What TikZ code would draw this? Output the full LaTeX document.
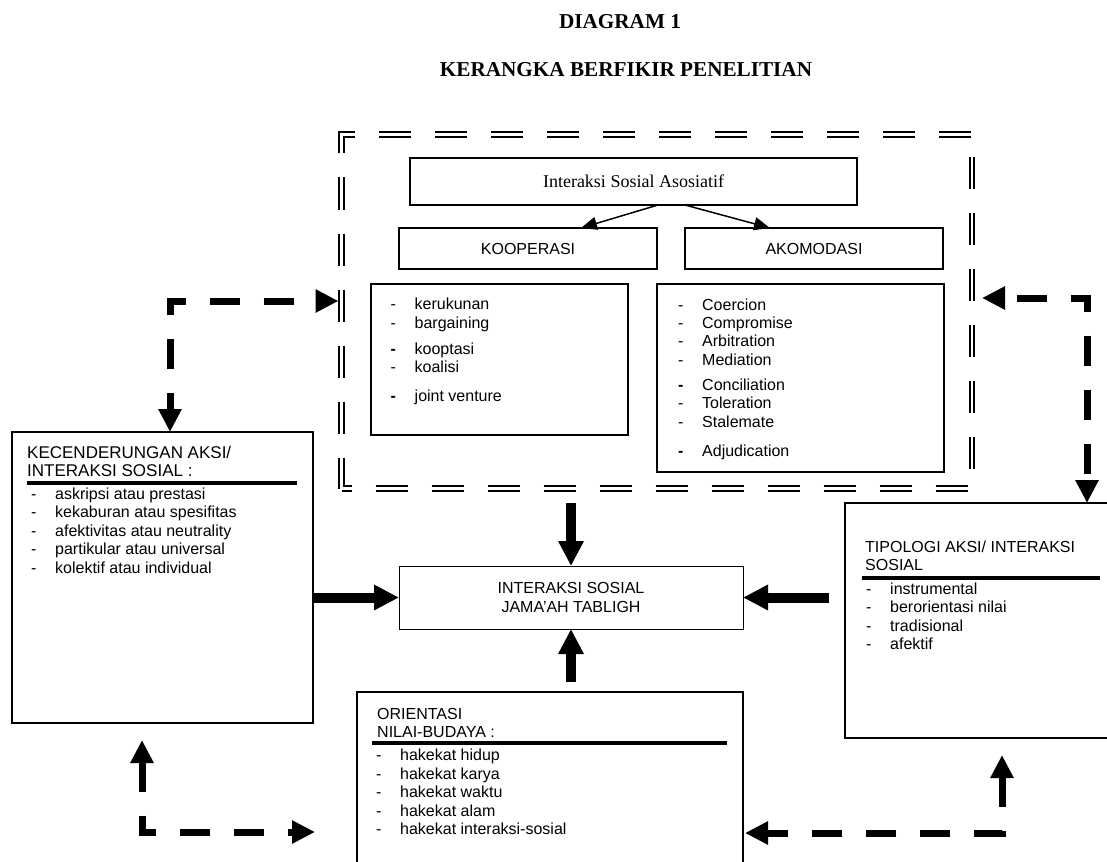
\documentclass[tikz,border=0pt]{standalone}
\usepackage{fontspec}
\setmainfont{Liberation Sans}
\newfontfamily\timesfont{Liberation Serif}
\usetikzlibrary{arrows.meta}

\newcommand{\itm}[1]{\makebox[24pt][l]{-}#1}
\newcommand{\itmb}[1]{\makebox[24pt][l]{\textbf{-}}#1}

\begin{document}
\begin{tikzpicture}[x=1pt,y=-1pt,font=\fontsize{16}{18.4}\selectfont,
    box/.style={draw,line width=1.6pt,inner sep=0pt,outer sep=0pt},
    listtext/.style={anchor=base west,align=left,inner sep=0pt},
    thinarrow/.style={-{Triangle[length=16pt,width=13pt]},line width=1.5pt},
    fatarrow/.style={-{Triangle[length=25pt,width=24pt]},line width=10pt},
    dasharrow/.style={{Triangle[length=23pt,width=22pt]}-{Triangle[length=23pt,width=22pt]},line width=7pt,dash pattern=on 30pt off 24pt}]
    \fill[white] (0,0) rectangle (1107,861);
    \useasboundingbox (0,0) rectangle (1107,861);
    %Title
    \node[font=\timesfont\bfseries\fontsize{21.2}{25}\selectfont] (title) at (620,22) {DIAGRAM 1};
    \node[font=\timesfont\bfseries\fontsize{21.2}{25}\selectfont] (subtitle) at (626,70) {KERANGKA BERFIKIR PENELITIAN};
    %Asosiatif frame
    \node[draw,double,double distance=2.5pt,line width=2pt,outer sep=0pt,dash pattern=on 32pt off 24pt,dash phase=22pt,minimum width=630.5pt,minimum height=354pt] (assoc) at (656.75,311.5) {};
    \node[box,font=\timesfont\fontsize{18}{22}\selectfont,minimum width=447pt,minimum height=47pt] (asos) at (633.5,181.5) {Interaksi Sosial Asosiatif};
    \node[box,line width=1.3pt,minimum width=258pt,minimum height=41pt] (koop) at (528,248.5) {KOOPERASI};
    \node[box,line width=1.3pt,minimum width=258pt,minimum height=41pt] (akom) at (814,248.5) {AKOMODASI};
    \draw[thinarrow] ([xshift=24.5pt]asos.south) -- ([xshift=53pt]koop.north);
    \draw[thinarrow] ([xshift=51.5pt]asos.south) -- ([xshift=-44pt]akom.north);
    %Lists
    \node[box,minimum width=257pt,minimum height=151pt] (kooplist) at (499.5,359.5) {};
    \node[listtext] (koopitems) at (390.5,401.5) {\itm{kerukunan}\\ \itm{bargaining}\\[7.6pt] \itmb{kooptasi}\\ \itm{koalisi}\\[10.6pt] \itmb{joint venture}};
    \node[box,minimum width=287pt,minimum height=188pt] (akomlist) at (800.5,378) {};
    \node[listtext] (akomitems) at (678,456) {\itm{Coercion}\\ \itm{Compromise}\\ \itm{Arbitration}\\ \itm{Mediation}\\[6.6pt] \itmb{Conciliation}\\ \itm{Toleration}\\ \itm{Stalemate}\\[10.6pt] \itmb{Adjudication}};
    %Center
    \node[box,line width=1pt,align=center,minimum width=344pt,minimum height=63pt] (jamaah) at (571,597.5) {INTERAKSI SOSIAL\\JAMA’AH TABLIGH};
    %Kecenderungan
    \node[box,minimum width=301pt,minimum height=291pt] (kecend) at (162.5,577.5) {};
    \node[listtext,font=\fontsize{17}{17.5}\selectfont] (kecendhead) at (27,476) {KECENDERUNGAN AKSI/\\INTERAKSI SOSIAL :};
    \draw[line width=4pt] (27,483) -- (297,483);
    \node[listtext] (kecenditems) at (31,573) {\itm{askripsi atau prestasi}\\ \itm{kekaburan atau spesifitas}\\ \itm{afektivitas atau neutrality}\\ \itm{partikular atau universal}\\ \itm{kolektif atau individual}};
    %Tipologi
    \node[box,minimum width=265pt,minimum height=235pt] (tipologi) at (977.5,620.5) {};
    \node[listtext] (tipologihead) at (865,570.7) {TIPOLOGI AKSI/ INTERAKSI\\SOSIAL};
    \draw[line width=4pt] (862,578) -- (1100,578);
    \node[listtext] (tipologiitems) at (866,649.5) {\itm{instrumental}\\ \itm{berorientasi nilai}\\ \itm{tradisional}\\ \itm{afektif}};
    %Orientasi
    \node[box,minimum width=386pt,minimum height=178pt] (orient) at (550,781) {};
    \node[listtext] (orienthead) at (377,737.7) {ORIENTASI\\NILAI-BUDAYA :};
    \draw[line width=4pt] (372,743) -- (727,743);
    \node[listtext] (orientitems) at (376,834.5) {\itm{hakekat hidup}\\ \itm{hakekat karya}\\ \itm{hakekat waktu}\\ \itm{hakekat alam}\\ \itm{hakekat interaksi-sosial}};
    %Arrows
    \draw[fatarrow,shorten <=14.5pt] (assoc.south -| jamaah.north) -- (jamaah.north);
    \draw[fatarrow] (kecend.east |- jamaah.west) -- (jamaah.west);
    \draw[fatarrow,shorten <=16pt] (tipologi.west |- jamaah.east) -- (jamaah.east);
    \draw[fatarrow,shorten <=10pt] (orient.north -| jamaah.south) -- (jamaah.south);
    %Dashed arrows
    \coordinate (tl) at (170,301);
    \draw[dasharrow,dash phase=13pt,shorten >=3pt] (kecend.north -| tl) -- (tl) -- (tl -| assoc.west);
    \coordinate (tr) at (1087,298);
    \draw[dasharrow,dash phase=41pt,shorten <=10pt] (tr -| assoc.east) -- (tr) -- (tr |- tipologi.north);
    \coordinate (bl) at (142,832);
    \draw[dasharrow,shorten <=17pt,shorten >=42pt] (kecend.south -| bl) -- (bl) -- (bl -| orient.west);
    \coordinate (br) at (1002,833);
    \draw[dasharrow,shorten <=17pt,shorten >=2pt] (tipologi.south -| br) -- (br) -- (br -| orient.east);
\end{tikzpicture}
\end{document}
